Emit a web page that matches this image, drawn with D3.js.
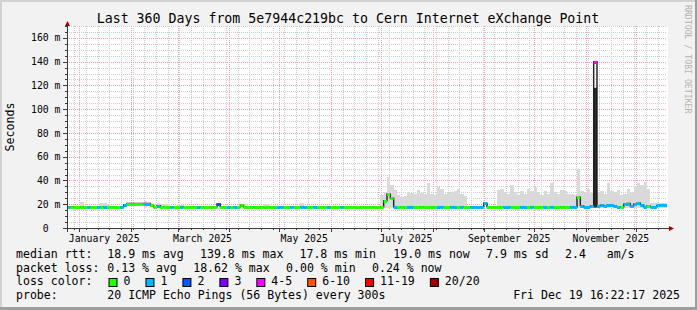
<!DOCTYPE html>
<html>
<head>
<meta charset="utf-8">
<script src="https://cdn.jsdelivr.net/npm/d3@7"></script>
<style>
html, body { margin: 0; padding: 0; background: #f2f2f2; }
svg { display: block; font-family: "DejaVu Sans Mono", monospace; }
text { white-space: pre; }
</style>
</head>
<body>
<div id="chart"></div>
<script>
// ---- data ----
const titleText = "Last 360 Days from 5e7944c219bc to Cern Internet eXchange Point";
const endTime = new Date(Date.UTC(2025, 11, 19, 16, 22, 17));
const rangeDays = 360;
const stepDays = 2;

// median rtt (ms), one value per 2-day step
const median = [
  17.9, 17.9, 17.9, 17.9, 17.9, 17.9, 17.9, 17.9, 17.9, 17.9,
  17.9, 17.9, 17.9, 17.9, 17.9, 17.9, 17.9, 19.4, 20.6, 20.6,
  20.6, 20.6, 20.6, 20.6, 20.6, 19.0, 17.9, 18.8, 17.9, 17.9,
  17.9, 17.9, 17.9, 17.9, 17.9, 17.9, 17.9, 17.9, 17.9, 17.9,
  17.9, 17.9, 17.9, 17.9, 17.9, 20.3, 17.9, 17.9, 17.9, 17.9,
  17.9, 17.9, 19.2, 17.9, 17.9, 17.9, 17.9, 17.9, 17.9, 17.9,
  17.9, 17.9, 17.9, 17.9, 17.9, 17.9, 17.9, 17.9, 17.9, 17.9,
  17.9, 17.9, 17.9, 17.9, 17.9, 17.9, 17.9, 17.9, 17.9, 17.9,
  17.9, 17.9, 17.9, 17.9, 17.9, 17.9, 17.9, 17.9, 17.9, 17.9,
  17.9, 17.9, 17.9, 17.9, 17.9, 23.0, 28.4, 25.0, 17.9, 17.9,
  17.9, 17.9, 17.9, 17.9, 17.9, 17.9, 17.9, 17.9, 17.9, 17.9,
  17.9, 17.9, 17.9, 17.9, 17.9, 17.9, 17.9, 17.9, 17.9, 17.9,
  17.9, 17.9, 17.9, 17.9, 17.9, 20.8, 17.9, 17.9, 17.9, 17.9,
  17.9, 17.9, 17.9, 17.9, 17.9, 17.9, 17.9, 17.9, 17.9, 17.9,
  17.9, 17.9, 17.9, 17.9, 17.9, 17.9, 17.9, 17.9, 17.9, 17.9,
  17.9, 17.9, 17.9, 26.0, 18.8, 17.9, 18.0, 18.6, 140.0, 18.5,
  19.2, 18.6, 19.5, 19.0, 18.2, 17.9, 17.9, 20.0, 20.6, 18.4,
  20.2, 20.8, 19.5, 18.0, 18.5, 17.9, 17.9, 19.0, 19.4, 19.0
];

// lost pings out of 20 per step
const loss = [
  1, 0, 0, 0, 0, 0, 1, 0, 0, 1,
  0, 1, 0, 0, 0, 0, 1, 1, 0, 0,
  0, 0, 0, 1, 1, 0, 0, 1, 0, 0,
  0, 1, 0, 0, 1, 0, 0, 0, 0, 1,
  0, 0, 0, 0, 0, 2, 0, 0, 1, 0,
  1, 0, 0, 0, 0, 0, 0, 0, 0, 0,
  0, 0, 0, 1, 1, 0, 0, 1, 0, 0,
  1, 1, 0, 0, 1, 0, 0, 0, 1, 0,
  0, 0, 1, 0, 0, 0, 0, 0, 0, 0,
  0, 0, 0, 0, 0, 0, 0, 0, 1, 0,
  0, 0, 1, 1, 0, 0, 0, 0, 0, 0,
  0, 1, 1, 0, 0, 1, 1, 0, 1, 0,
  0, 1, 1, 1, 1, 1, 0, 0, 0, 0,
  0, 1, 1, 0, 0, 0, 1, 1, 0, 1,
  0, 0, 0, 1, 0, 1, 0, 0, 0, 0,
  0, 1, 1, 0, 1, 1, 1, 1, 4, 1,
  1, 1, 1, 1, 1, 1, 0, 1, 1, 1,
  1, 1, 1, 1, 0, 1, 1, 1, 1, 1
];

// highest ping of each step (smoke top, ms); null = no visible smoke
const smoke = [
  null, null, null, null, 21.6, null, null, null, null, null,
  20.8, 20.8, 20.5, null, null, null, null, null, null, null,
  null, null, null, 22.7, null, null, null, 20.8, 19.8, 19.8,
  19.8, null, null, 20.0, 19.5, null, null, null, null, null,
  null, null, null, null, null, null, null, null, null, null,
  null, null, null, null, null, null, null, null, null, 19.8,
  19.8, null, null, null, null, null, null, null, null, null,
  20.8, null, null, null, null, null, null, null, null, null,
  null, null, null, null, null, null, null, null, null, null,
  null, null, null, null, 28.0, 30.6, 43.0, 36.0, 32.0, 27.8,
  26.4, 26.8, 30.6, 29.5, 28.6, 32.0, 29.5, 28.6, 37.6, 29.0,
  28.0, 34.8, 33.0, 28.5, 29.5, 30.6, 31.5, 33.0, 28.5, 27.0,
  null, null, null, null, null, null, null, null, null, 32.0,
  33.0, 30.0, 28.5, 36.0, 30.0, 28.0, 31.0, 29.0, 33.0, 31.5,
  34.5, 30.0, 28.0, 31.0, 29.0, 37.6, 30.0, 29.0, 32.0, 31.5,
  28.5, 29.0, 27.5, 50.0, 31.0, 30.0, 33.0, 29.5, 30.0, 30.0,
  31.0, 29.0, 37.6, 31.0, 30.0, 32.0, 28.0, 28.5, 33.0, 30.0,
  35.0, 38.0, 36.0, 39.0, 33.0, 21.0, 21.0, 21.0, 21.0, 21.0
];
const smokeFloor = 17.2;
// dense smoke band [step index, top ms]
const darkSmoke = [[158, 118]];

const yTicks = [0, 20, 40, 60, 80, 100, 120, 140, 160];
const yTickLabels = ["0  ", "20 m", "40 m", "60 m", "80 m", "100 m", "120 m", "140 m", "160 m"];
const xLabelMonths = ["2025-01-01", "2025-03-01", "2025-05-01", "2025-07-01", "2025-09-01", "2025-11-01"];
const xLabels = ["January 2025", "March 2025", "May 2025", "July 2025", "September 2025", "November 2025"];

const rttStats = ["18.9 ms avg", "139.8 ms max", "17.8 ms min", "19.0 ms now", "7.9 ms sd", "2.4   am/s"];
const lossStats = ["0.13 % avg", "18.62 % max", "0.00 % min", "0.24 % now"];
const lossLabels = ["0", "1", "2", "3", "4-5", "6-10", "11-19", "20/20"];
const lossColors = ["#26ff00", "#00b8ff", "#0059ff", "#7e00ff", "#ff00ff", "#ff5500", "#ff0000", "#a10000"];
const probeText = "20 ICMP Echo Pings (56 Bytes) every 300s";
const stampText = "Fri Dec 19 16:22:17 2025";

// ---- layout ----
const W = 697, H = 310;
const plotL = 67, plotR = 667, plotT = 26, plotB = 228;

const startTime = d3.utcDay.offset(endTime, -rangeDays);
const x = d3.scaleUtc().domain([startTime, endTime]).range([plotL, plotR]);
const y = d3.scaleLinear().domain([0, 170]).range([plotB, plotT]);
const lossColor = d3.scaleThreshold().domain([1, 2, 3, 4, 6, 11, 20]).range(lossColors);
const crisp = v => Math.round(v) + 0.5;

const pts = median.map((v, i) => ({
  t0: d3.utcDay.offset(startTime, i * stepDays),
  t1: d3.utcDay.offset(startTime, (i + 1) * stepDays),
  v,
  loss: loss[i],
  s: smoke[i]
}));

const svg = d3
  .select("#chart")
  .append("svg")
  .attr("width", W)
  .attr("height", H);

// background + frame
svg.append("rect").attr("width", W).attr("height", H).attr("fill", "#f2f2f2");
svg.append("rect").attr("x", 0).attr("y", 0).attr("width", W).attr("height", 2).attr("fill", "#d2d2d2");
svg.append("rect").attr("x", 0).attr("y", 0).attr("width", 2).attr("height", H).attr("fill", "#d2d2d2");
svg.append("rect").attr("x", 0).attr("y", H - 3).attr("width", W).attr("height", 3).attr("fill", "#9e9e9e");
svg.append("rect").attr("x", W - 2).attr("y", 0).attr("width", 2).attr("height", H).attr("fill", "#9e9e9e");

// canvas
svg.append("rect")
  .attr("x", plotL)
  .attr("y", plotT)
  .attr("width", plotR - plotL + 1)
  .attr("height", plotB - plotT)
  .attr("fill", "#ffffff");

// grid
const grid = svg.append("g").attr("stroke-dasharray", "1,1").attr("stroke-width", 1);
const minorY = d3.range(5, 171, 5).filter(v => v % 20 !== 0);
const weeks = d3.utcSunday.range(startTime, endTime);
const months = d3.utcMonth.range(startTime, endTime);

grid.selectAll(".gminy")
  .data(minorY)
  .join("line")
  .attr("x1", plotL).attr("x2", plotR)
  .attr("y1", d => crisp(y(d))).attr("y2", d => crisp(y(d)))
  .attr("stroke", "#cdcdcd");
grid.selectAll(".gminx")
  .data(weeks)
  .join("line")
  .attr("x1", d => crisp(x(d))).attr("x2", d => crisp(x(d)))
  .attr("y1", plotT).attr("y2", plotB)
  .attr("stroke", "#cdcdcd");
grid.selectAll(".gmajy")
  .data(yTicks.filter(d => d > 0))
  .join("line")
  .attr("x1", plotL).attr("x2", plotR)
  .attr("y1", d => crisp(y(d))).attr("y2", d => crisp(y(d)))
  .attr("stroke", "#f2a2a2");
grid.selectAll(".gmajx")
  .data(months)
  .join("line")
  .attr("x1", d => crisp(x(d))).attr("x2", d => crisp(x(d)))
  .attr("y1", plotT).attr("y2", plotB)
  .attr("stroke", "#f2a2a2");

// smoke
svg.append("g")
  .attr("shape-rendering", "crispEdges")
  .selectAll("rect")
  .data(pts.filter(d => d.s !== null))
  .join("rect")
  .attr("x", d => x(d.t0))
  .attr("width", d => x(d.t1) - x(d.t0))
  .attr("y", d => y(d.s))
  .attr("height", d => y(smokeFloor) - y(d.s))
  .attr("fill", "#d9d9d9");

svg.append("g")
  .selectAll("rect")
  .data(darkSmoke)
  .join("rect")
  .attr("x", d => x(pts[d[0]].t0))
  .attr("width", d => x(pts[d[0]].t1) - x(pts[d[0]].t0))
  .attr("y", d => y(d[1]))
  .attr("height", d => y(smokeFloor) - y(d[1]))
  .attr("fill", "#2a2a2a");

// thin dark median (shows the vertical jumps)
const stepLine = d3
  .line()
  .curve(d3.curveStepAfter)
  .x(d => x(d.t))
  .y(d => y(d.v));
const linePts = pts.map(d => ({ t: d.t0, v: d.v }));
linePts.push({ t: endTime, v: median[median.length - 1] });
svg.append("path")
  .attr("d", stepLine(linePts))
  .attr("fill", "none")
  .attr("stroke", "#1e1e1e")
  .attr("stroke-width", 1.4);

// loss coloured median
svg.append("g")
  .selectAll("line")
  .data(pts)
  .join("line")
  .attr("x1", d => x(d.t0))
  .attr("x2", d => x(d.t1))
  .attr("y1", d => Math.round(y(d.v)) + 0.5)
  .attr("y2", d => Math.round(y(d.v)) + 0.5)
  .attr("stroke", d => lossColor(d.loss))
  .attr("stroke-width", 3);

// axes
const axis = svg.append("g").attr("stroke", "#3a3a3a").attr("stroke-width", 1);
axis.append("line").attr("x1", 63).attr("x2", 670).attr("y1", plotB + 0.5).attr("y2", plotB + 0.5);
axis.append("line").attr("x1", plotL + 0.5).attr("x2", plotL + 0.5).attr("y1", plotB + 4).attr("y2", 24);
axis.selectAll(".ty")
  .data(d3.range(5, 171, 5))
  .join("line")
  .attr("x1", d => (d % 20 === 0 ? 63 : 65)).attr("x2", plotL)
  .attr("y1", d => crisp(y(d))).attr("y2", d => crisp(y(d)));
axis.selectAll(".tx")
  .data(months)
  .join("line")
  .attr("x1", d => crisp(x(d))).attr("x2", d => crisp(x(d)))
  .attr("y1", plotB).attr("y2", plotB + 4);
axis.selectAll(".txm")
  .data(weeks)
  .join("line")
  .attr("x1", d => crisp(x(d))).attr("x2", d => crisp(x(d)))
  .attr("y1", plotB).attr("y2", plotB + 2);

svg.append("path")
  .attr("d", `M${plotL + 0.5},21 L${plotL + 3},26 L${plotL - 2},26 Z`)
  .attr("fill", "#a00000");
svg.append("path")
  .attr("d", `M674,${plotB + 0.5} L669,${plotB - 2} L669,${plotB + 3} Z`)
  .attr("fill", "#a00000");

// tick labels
svg.append("g")
  .attr("font-size", "9.8px")
  .attr("fill", "#000")
  .attr("text-anchor", "end")
  .selectAll("text")
  .data(yTicks)
  .join("text")
  .attr("x", 60.5)
  .attr("y", d => y(d) + 3.6)
  .text((d, i) => yTickLabels[i]);

svg.append("g")
  .attr("font-size", "9.8px")
  .attr("fill", "#000")
  .attr("text-anchor", "middle")
  .selectAll("text")
  .data(xLabelMonths)
  .join("text")
  .attr("x", d => x(d3.utcDay.offset(new Date(d + "T00:00:00Z"), 15)))
  .attr("y", 241.5)
  .text((d, i) => xLabels[i]);

// title, y label, watermark
svg.append("text")
  .attr("x", 348)
  .attr("y", 23)
  .attr("text-anchor", "middle")
  .attr("font-size", "13.25px")
  .attr("fill", "#000")
  .text(titleText);

svg.append("text")
  .attr("transform", "translate(13.5,127) rotate(-90)")
  .attr("text-anchor", "middle")
  .attr("font-size", "11.6px")
  .attr("fill", "#000")
  .text("Seconds");

svg.append("text")
  .attr("transform", "translate(684.5,5) rotate(90)")
  .attr("font-size", "8.2px")
  .attr("fill", "#b2b2b2")
  .text("RRDTOOL / TOBI OETIKER");

// legend
const legend = svg.append("g").attr("font-size", "11.56px").attr("fill", "#000");
const rowY = [258, 271.5, 285, 298.5];
const rttX = [107.3, 200, 299.5, 393.3, 486, 565];
const lossX = [107.3, 193.2, 286.1, 372];

legend.append("text").attr("x", 16).attr("y", rowY[0]).text("median rtt:");
legend.selectAll(".rtt")
  .data(rttStats)
  .join("text")
  .attr("x", (d, i) => rttX[i])
  .attr("y", rowY[0])
  .text(d => d);

legend.append("text").attr("x", 16).attr("y", rowY[1]).text("packet loss:");
legend.selectAll(".pl")
  .data(lossStats)
  .join("text")
  .attr("x", (d, i) => lossX[i])
  .attr("y", rowY[1])
  .text(d => d);

legend.append("text").attr("x", 16).attr("y", rowY[2]).text("loss color:");
const charW = 6.96;
let bx = 108.5;
lossLabels.forEach((lbl, i) => {
  legend.append("rect")
    .attr("x", bx + 0.5)
    .attr("y", rowY[2] - 6.5)
    .attr("width", 8)
    .attr("height", 8)
    .attr("fill", lossColors[i])
    .attr("stroke", "#000")
    .attr("stroke-width", 1);
  legend.append("text").attr("x", bx + 15).attr("y", rowY[2]).text(lbl);
  bx = bx + 15 + lbl.length * charW + 15;
});

legend.append("text").attr("x", 16).attr("y", rowY[3]).text("probe:");
legend.append("text").attr("x", 107.3).attr("y", rowY[3]).text(probeText);
legend.append("text").attr("x", 680).attr("y", rowY[3]).attr("text-anchor", "end").text(stampText);
</script>
</body>
</html>
